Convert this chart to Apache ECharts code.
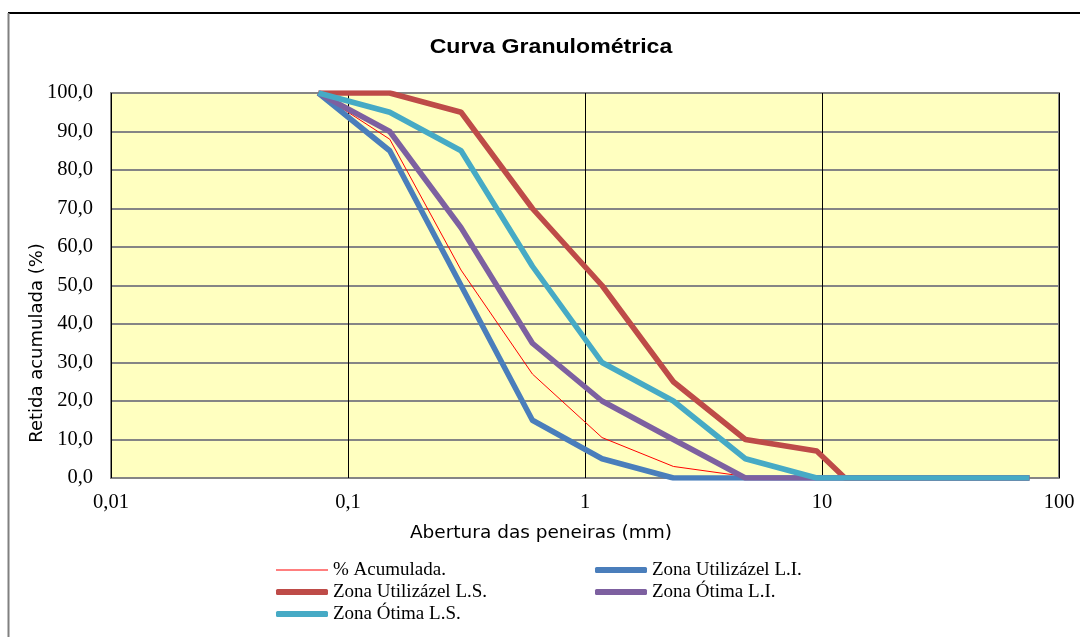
<!DOCTYPE html>
<html>
<head>
<meta charset="utf-8">
<script src="https://cdn.jsdelivr.net/npm/echarts@6/dist/echarts.min.js"></script>
<style>
html,body{margin:0;padding:0;background:#fff;}
#chart{width:1080px;height:637px;}
</style>
</head>
<body>
<div id="chart"></div>
<script>
// Sieve openings (mm)
const sieves = [75, 50, 37.5, 25, 19, 12.5, 9.5, 4.75, 2.36, 1.18, 0.6, 0.3, 0.15, 0.075];
// Cumulative retained (%) per series, aligned with sieves
const acumulada      = [0, 0, 0, 0, 0, 0, 0, 0.4, 3, 10.5, 27, 54, 88, 100];
const utilizavelLI   = [0, 0, 0, 0, 0, 0, 0, 0, 0, 5, 15, 50, 85, 100];
const utilizavelLS   = [0, 0, 0, 0, 0, 0, 7, 10, 25, 50, 70, 95, 100, 100];
const otimaLI        = [0, 0, 0, 0, 0, 0, 0, 0, 10, 20, 35, 65, 90, 100];
const otimaLS        = [0, 0, 0, 0, 0, 0, 0, 5, 20, 30, 55, 85, 95, 100];
const seriesNames = ['% Acumulada.', 'Zona Utilizázel L.I.', 'Zona Utilizázel L.S.', 'Zona Ótima L.I.', 'Zona Ótima L.S.'];
const seriesColors = ['#FF0000', '#4A7EBB', '#BE4B48', '#7D60A0', '#46AAC5'];
const xTickValues = [0.01, 0.1, 1, 10, 100];

function pairs(vals){ return sieves.map((s,i)=>[s, vals[i]]); }

const chart = echarts.init(document.getElementById('chart'));
const serif = '"Liberation Serif", "Times New Roman", serif';

function mk(idx, vals, width){
  return {
    name: seriesNames[idx], type: 'line', data: pairs(vals), symbol: 'none', showSymbol: false,
    lineStyle: {color: seriesColors[idx], width: width, join: 'round'},
    itemStyle: {color: seriesColors[idx]},
    animation: false, silent: true
  };
}

// one legend entry per component: [series index, left, row centre y]
const legendSlots = [[0, 276, 570], [2, 276, 592], [4, 276, 614], [1, 595, 570], [3, 595, 592]];
const legendFont = 19;
const legends = legendSlots.map(([idx, left, cy]) => ({
  data: [seriesNames[idx]],
  left: left, top: cy - legendFont / 2,
  itemWidth: 52, itemHeight: idx === 0 ? 1.2 : 6,
  icon: idx === 0 ? 'rect' : 'roundRect',
  padding: 0,
  selectedMode: false,
  textStyle: {fontFamily: serif, fontSize: legendFont, color: '#000'}
}));

const option = {
  animation: false,
  backgroundColor: '#ffffff',
  graphic: [
    {type: 'line', shape: {x1: 8, y1: 13, x2: 1080, y2: 13}, style: {stroke: '#000', lineWidth: 2}, z: 100},
    {type: 'line', shape: {x1: 8.5, y1: 13, x2: 8.5, y2: 637}, style: {stroke: '#808080', lineWidth: 2}, z: 100},
    {type: 'text', x: 551, y: 47, scaleX: 1.1, originX: 0, originY: 0,
      style: {text: 'Curva Granulométrica', fill: '#000', align: 'center', verticalAlign: 'middle',
        font: 'bold 21px "Liberation Sans", Arial, sans-serif'}},
    {type: 'text', x: 541, y: 533,
      style: {text: 'Abertura das peneiras (mm)', fill: '#000', align: 'center', verticalAlign: 'middle',
        font: '18.5px "DejaVu Sans", sans-serif'}},
    {type: 'text', x: 37, y: 343, rotation: Math.PI / 2,
      style: {text: 'Retida acumulada (%)', fill: '#000', align: 'center', verticalAlign: 'middle',
        font: '18px "DejaVu Sans", sans-serif'}}
  ],
  grid: {
    left: 111, right: 21, top: 93, bottom: 159,
    show: true, backgroundColor: '#FFFFC0', borderColor: '#858585', borderWidth: 2
  },
  legend: legends,
  xAxis: {
    type: 'log', logBase: 10, min: 0.01, max: 100,
    axisLine: {show: false}, axisTick: {show: false},
    axisLabel: {
      margin: 14, fontFamily: serif, fontSize: 20.5, color: '#000',
      formatter: function(v){
        let best = xTickValues.reduce((a,b)=> Math.abs(Math.log10(b)-Math.log10(v)) < Math.abs(Math.log10(a)-Math.log10(v)) ? b : a);
        return String(best).replace('.', ',');
      }
    },
    splitLine: {show: true, lineStyle: {color: '#000', width: 1}},
    minorSplitLine: {show: false}
  },
  yAxis: {
    type: 'value', min: 0, max: 100, interval: 10,
    axisLine: {show: false}, axisTick: {show: false},
    axisLabel: {
      margin: 18, fontFamily: serif, fontSize: 20.5, color: '#000',
      formatter: function(v){ return v.toFixed(1).replace('.', ','); }
    },
    splitLine: {show: true, lineStyle: {color: '#858585', width: 2}}
  },
  series: [
    mk(0, acumulada, 1),
    mk(1, utilizavelLI, 5.5),
    mk(2, utilizavelLS, 5.5),
    mk(3, otimaLI, 5.5),
    mk(4, otimaLS, 5.5)
  ]
};
chart.setOption(option);
</script>
</body>
</html>
